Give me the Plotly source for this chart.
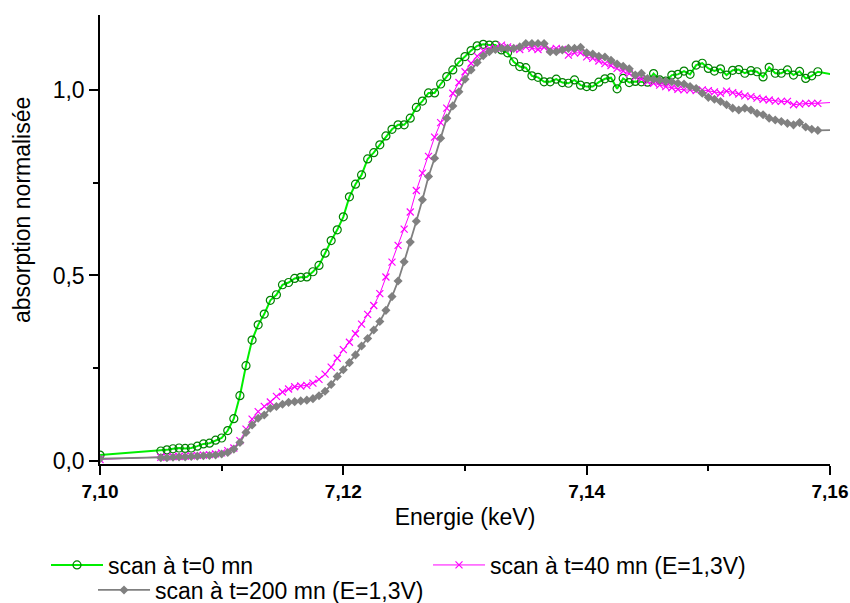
import plotly.graph_objects as go

energy = [7.1000,
    7.1050, 7.1055, 7.1060, 7.1065, 7.1070, 7.1075, 7.1080, 7.1085, 7.1090, 7.1095,
    7.1100, 7.1105, 7.1110, 7.1115, 7.1120, 7.1125, 7.1130, 7.1135, 7.1140, 7.1145,
    7.1150, 7.1155, 7.1160, 7.1165, 7.1170, 7.1175, 7.1180, 7.1185, 7.1190, 7.1195,
    7.1200, 7.1205, 7.1210, 7.1215, 7.1220, 7.1225, 7.1230, 7.1235, 7.1240, 7.1245,
    7.1250, 7.1255, 7.1260, 7.1265, 7.1270, 7.1275, 7.1280, 7.1285, 7.1290, 7.1295,
    7.1300, 7.1305, 7.1310, 7.1315, 7.1320, 7.1325, 7.1330, 7.1335, 7.1340, 7.1345,
    7.1350, 7.1355, 7.1360, 7.1365, 7.1370, 7.1375, 7.1380, 7.1385, 7.1390, 7.1395,
    7.1400, 7.1405, 7.1410, 7.1415, 7.1420, 7.1425, 7.1430, 7.1435, 7.1440, 7.1445,
    7.1450, 7.1455, 7.1460, 7.1465, 7.1470, 7.1475, 7.1480, 7.1485, 7.1490, 7.1495,
    7.1500, 7.1505, 7.1510, 7.1515, 7.1520, 7.1525, 7.1530, 7.1535, 7.1540, 7.1545,
    7.1550, 7.1555, 7.1560, 7.1565, 7.1570, 7.1575, 7.1580, 7.1585, 7.1590,
    7.1605]

scan_t0 = [0.016,
    0.027, 0.030, 0.033, 0.035, 0.034, 0.035, 0.040, 0.046, 0.048, 0.056,
    0.062, 0.082, 0.114, 0.176, 0.257, 0.326, 0.367, 0.396, 0.433, 0.448,
    0.475, 0.481, 0.492, 0.495, 0.496, 0.510, 0.527, 0.560, 0.594, 0.623,
    0.658, 0.712, 0.746, 0.771, 0.814, 0.831, 0.852, 0.876, 0.894, 0.906,
    0.906, 0.924, 0.953, 0.970, 0.992, 0.992, 1.016, 1.036, 1.054, 1.075,
    1.090, 1.106, 1.119, 1.123, 1.121, 1.121, 1.108, 1.100, 1.076, 1.063,
    1.060, 1.038, 1.034, 1.022, 1.022, 1.029, 1.020, 1.018, 1.027, 1.013,
    1.009, 1.009, 1.021, 1.030, 1.033, 1.003, 1.031, 1.020, 1.023, 1.022,
    1.021, 1.044, 1.027, 1.024, 1.040, 1.042, 1.051, 1.042, 1.067, 1.072,
    1.058, 1.051, 1.057, 1.040, 1.053, 1.055, 1.045, 1.052, 1.049, 1.035,
    1.061, 1.045, 1.045, 1.054, 1.040, 1.050, 1.031, 1.038, 1.049,
    1.040]

scan_t40 = [0.004,
    0.010, 0.011, 0.012, 0.012, 0.013, 0.014, 0.015, 0.016, 0.017, 0.019,
    0.022, 0.028, 0.035, 0.055, 0.086, 0.113, 0.133, 0.147, 0.159, 0.174,
    0.186, 0.194, 0.200, 0.202, 0.204, 0.210, 0.220, 0.234, 0.253, 0.277,
    0.300, 0.320, 0.343, 0.369, 0.395, 0.419, 0.451, 0.496, 0.536, 0.581,
    0.625, 0.671, 0.729, 0.776, 0.821, 0.873, 0.912, 0.951, 0.991, 1.020,
    1.049, 1.072, 1.091, 1.106, 1.112, 1.113, 1.121, 1.116, 1.112, 1.109,
    1.116, 1.112, 1.109, 1.115, 1.109, 1.112, 1.109, 1.094, 1.100, 1.100,
    1.089, 1.085, 1.078, 1.071, 1.066, 1.058, 1.051, 1.044, 1.036, 1.029,
    1.022, 1.018, 1.013, 1.009, 1.006, 1.002, 1.000, 1.000, 0.998, 1.000,
    0.998, 0.995, 0.991, 0.997, 0.993, 0.989, 0.984, 0.982, 0.978, 0.975,
    0.973, 0.970, 0.969, 0.969, 0.960, 0.962, 0.964, 0.964, 0.964,
    0.967]

scan_t200 = [0.006,
    0.009, 0.009, 0.010, 0.011, 0.011, 0.012, 0.013, 0.014, 0.015, 0.016,
    0.019, 0.023, 0.032, 0.050, 0.077, 0.097, 0.115, 0.124, 0.142, 0.147,
    0.153, 0.158, 0.160, 0.162, 0.164, 0.168, 0.176, 0.188, 0.206, 0.228,
    0.246, 0.265, 0.286, 0.310, 0.330, 0.353, 0.376, 0.406, 0.443, 0.485,
    0.537, 0.590, 0.646, 0.704, 0.767, 0.816, 0.870, 0.924, 0.957, 0.995,
    1.029, 1.054, 1.074, 1.092, 1.103, 1.109, 1.112, 1.112, 1.112, 1.116,
    1.125, 1.125, 1.125, 1.125, 1.103, 1.103, 1.108, 1.112, 1.112, 1.115,
    1.100, 1.097, 1.091, 1.089, 1.080, 1.070, 1.064, 1.057, 1.040, 1.045,
    1.031, 1.029, 1.027, 1.024, 1.022, 1.018, 1.016, 1.009, 1.004, 0.991,
    0.980, 0.975, 0.969, 0.960, 0.951, 0.946, 0.951, 0.946, 0.937, 0.933,
    0.924, 0.919, 0.915, 0.910, 0.906, 0.912, 0.900, 0.894, 0.891,
    0.892]

names = ["scan à t=0 mn", "scan à t=40 mn (E=1,3V)", "scan à t=200 mn (E=1,3V)"]
x_ticks = [7.10, 7.12, 7.14, 7.16]
y_ticks = [0.0, 0.5, 1.0]
x_title = "Energie (keV)"
y_title = "absorption normalisée"

FONT = "Liberation Sans, Arial, sans-serif"

W, H = 850, 603
PL, PR, PT, PB = 100, 20, 15, 139   # plot area margins (page pixels; body margin removed)

def px_to_paper_x(page_x):
    return (page_x - PL) / (W - PL - PR)

def px_to_paper_y(page_y):
    return (H - PB - page_y) / (H - PT - PB)

fig = go.Figure()
fig.add_trace(go.Scatter(
    x=energy, y=scan_t0, name=names[0], mode="lines+markers",
    line=dict(color="#00ee00", width=2),
    marker=dict(symbol="circle-open", size=8, color="#008000", line=dict(width=1.2, color="#008000")),
    legend="legend"))
fig.add_trace(go.Scatter(
    x=energy, y=scan_t40, name=names[1], mode="lines+markers",
    line=dict(color="#ff00ff", width=1),
    marker=dict(symbol="x-thin", size=7, color="#ff00ff", line=dict(width=1.2, color="#ff00ff")),
    legend="legend2"))
fig.add_trace(go.Scatter(
    x=energy, y=scan_t200, name=names[2], mode="lines+markers",
    line=dict(color="#808080", width=1.8),
    marker=dict(symbol="diamond", size=7, color="#808080", line=dict(width=0)),
    legend="legend3"))

leg_common = dict(font=dict(family=FONT, size=23, color="black"), bgcolor="rgba(0,0,0,0)",
                  borderwidth=0, orientation="h", xanchor="left", yanchor="middle",
                  itemsizing="trace", itemwidth=52)

fig.update_layout(
    width=W, height=H,
    margin=dict(l=PL, r=PR, t=PT, b=PB, autoexpand=False),
    paper_bgcolor="white", plot_bgcolor="white",
    separators=", ",
    font=dict(family=FONT, size=23, color="black"),
    showlegend=True,
    legend=dict(x=px_to_paper_x(46), y=px_to_paper_y(565), **leg_common),
    legend2=dict(x=px_to_paper_x(428), y=px_to_paper_y(565), **leg_common),
    legend3=dict(x=px_to_paper_x(93), y=px_to_paper_y(590), **leg_common),
    xaxis=dict(
        range=[7.10, 7.16], tickvals=x_ticks, tickformat=".2f",
        ticks="outside", ticklen=9, tickwidth=1.5, tickcolor="black",
        showline=True, linecolor="black", linewidth=1.5,
        showgrid=False, zeroline=False,
        tickfont=dict(family=FONT, size=19, color="black", weight="bold"),
        minor=dict(tickvals=[7.11, 7.13, 7.15], ticks="outside", ticklen=5, tickwidth=1.5, tickcolor="black", showgrid=False),
        title=dict(text=x_title, font=dict(family=FONT, size=23), standoff=8),
    ),
    yaxis=dict(
        range=[-0.0081, 1.202], tickvals=y_ticks, tickformat=".1f",
        ticks="outside", ticklen=9, tickwidth=1.5, tickcolor="black",
        showline=True, linecolor="black", linewidth=1.5,
        showgrid=False, zeroline=False,
        tickfont=dict(family=FONT, size=23, color="black"),
        minor=dict(tickvals=[0.25, 0.75], ticks="outside", ticklen=5, tickwidth=1.5, tickcolor="black", showgrid=False),
    ),
    annotations=[dict(
        text=y_title, textangle=-90, showarrow=False,
        xref="paper", yref="paper", x=px_to_paper_x(22), y=px_to_paper_y(210),
        xanchor="center", yanchor="middle",
        font=dict(family=FONT, size=23, color="black"))],
)

fig.write_html(
    "out.html",
    config={"displayModeBar": False},
    post_script="document.body.style.margin='0';document.body.style.overflow='hidden';",
)
